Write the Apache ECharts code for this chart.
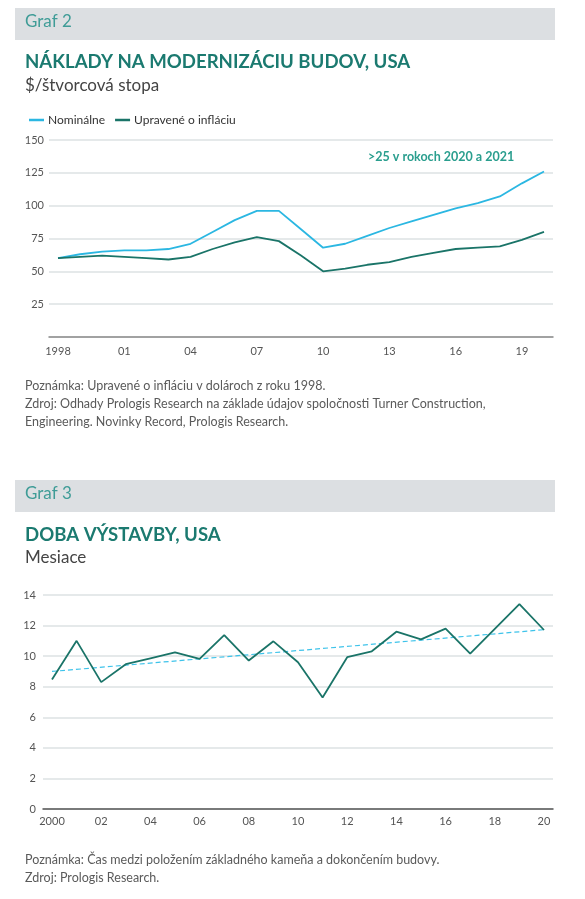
<!DOCTYPE html>
<html>
<head>
<meta charset="utf-8">
<script src="https://cdn.jsdelivr.net/npm/echarts@6/dist/echarts.min.js"></script>
<style>
html,body{margin:0;padding:0;background:#fff;}
#c{width:585px;height:899px;}
</style>
</head>
<body>
<div id="c"></div>
<script>
// ---- Graf 2 data ----
var years1 = ['1998','1999','2000','2001','2002','2003','2004','2005','2006','2007','2008','2009','2010','2011','2012','2013','2014','2015','2016','2017','2018','2019','2020'];
var nominal = [60, 63, 65, 66, 66, 67, 71, 80, 89, 96, 96, 82, 68, 71, 77, 83, 88, 93, 98, 102, 107, 117, 126];
var adjusted = [60, 61, 62, 61, 60, 59, 61, 67, 72, 76, 73, 62, 50, 52, 55, 57, 61, 64, 67, 68, 69, 74, 80];
var yTicks1 = [0, 150, 25];
// ---- Graf 3 data ----
var years2 = ['2000','2001','2002','2003','2004','2005','2006','2007','2008','2009','2010','2011','2012','2013','2014','2015','2016','2017','2018','2019','2020'];
var months = [8.47, 11.0, 8.3, 9.47, 9.86, 10.25, 9.82, 11.38, 9.71, 10.97, 9.6, 7.29, 9.93, 10.32, 11.6, 11.1, 11.8, 10.16, 11.79, 13.41, 11.71];
var trend = [9.0, null, null, null, null, null, null, null, null, null, null, null, null, null, null, null, null, null, null, null, 11.73];
var yTicks2 = [0, 14, 2];

var FONT = 'Lato';
var teal = '#1a7468';
var blue = '#2bb7e2';
var grid = '#dde2e3';
var lab = '#555';

var chart = echarts.init(document.getElementById('c'), null, {renderer: 'canvas'});

function txt(x, y, s, o) {
  return {type: 'text', left: x, top: y, style: Object.assign({text: s, font: 'normal 13px ' + FONT, fill: '#555'}, o || {})};
}

var option = {
  animation: false,
  backgroundColor: '#fff',
  textStyle: {fontFamily: FONT},
  legend: {
    left: 24, top: 109, itemWidth: 15, itemHeight: 2.5, itemGap: 10, icon: 'rect',
    textStyle: {fontSize: 12, color: '#333', fontFamily: FONT, padding: [0, 0, 0, -1]},
    data: ['Nominálne', 'Upravené o infláciu']
  },
  grid: [
    {left: 49, right: 32, top: 140, height: 197},
    {left: 58, right: 41, top: 140, height: 197},
    {left: 43, right: 32, top: 595, height: 214},
    {left: 52, right: 41, top: 595, height: 214}
  ],
  xAxis: [
    {gridIndex: 0, type: 'value', min: 0, max: 1, axisLine: {show: true, lineStyle: {color: '#8a8a8a', width: 1.5}}, axisTick: {show: false}, axisLabel: {show: false}, splitLine: {show: false}},
    {gridIndex: 1, type: 'category', data: years1, boundaryGap: false, axisLine: {show: false}, axisTick: {show: false},
      axisLabel: {interval: 2, margin: 9, color: lab, fontSize: 11, fontFamily: FONT,
        formatter: function (v, i) { return i === 0 ? v : v.slice(2); }}},
    {gridIndex: 2, type: 'value', min: 0, max: 1, axisLine: {show: true, lineStyle: {color: '#555', width: 1.5}}, axisTick: {show: false}, axisLabel: {show: false}, splitLine: {show: false}},
    {gridIndex: 3, type: 'category', data: years2, boundaryGap: false, axisLine: {show: false}, axisTick: {show: false},
      axisLabel: {interval: 1, margin: 7, color: lab, fontSize: 11, fontFamily: FONT,
        formatter: function (v, i) { return i === 0 ? v : v.slice(2); }}}
  ],
  yAxis: [
    {gridIndex: 0, type: 'value', min: yTicks1[0], max: yTicks1[1], interval: yTicks1[2], axisLine: {show: false}, axisTick: {show: false},
      axisLabel: {margin: 5, color: lab, fontSize: 11, fontFamily: FONT, formatter: function (v) { return v === 0 ? '' : v; }},
      splitLine: {lineStyle: {color: grid, width: 1.5}}},
    {gridIndex: 1, type: 'value', min: yTicks1[0], max: yTicks1[1], show: false},
    {gridIndex: 2, type: 'value', min: yTicks2[0], max: yTicks2[1], interval: yTicks2[2], axisLine: {show: false}, axisTick: {show: false},
      axisLabel: {margin: 7, color: lab, fontSize: 11, fontFamily: FONT},
      splitLine: {lineStyle: {color: grid, width: 1.5}}},
    {gridIndex: 3, type: 'value', min: yTicks2[0], max: yTicks2[1], show: false}
  ],
  series: [
    {name: 'Nominálne', type: 'line', xAxisIndex: 1, yAxisIndex: 1, data: nominal, symbol: 'none', color: blue, lineStyle: {width: 1.8, color: blue}},
    {name: 'Upravené o infláciu', type: 'line', xAxisIndex: 1, yAxisIndex: 1, data: adjusted, symbol: 'none', color: teal, lineStyle: {width: 1.8, color: teal}},
    {name: 'trend', type: 'line', xAxisIndex: 3, yAxisIndex: 3, data: trend, connectNulls: true, symbol: 'none', lineStyle: {width: 1.2, color: '#3ec3ea', type: [5, 3]}},
    {name: 'Mesiace', type: 'line', xAxisIndex: 3, yAxisIndex: 3, data: months, symbol: 'none', lineStyle: {width: 1.8, color: teal}}
  ],
  graphic: [
    {type: 'rect', shape: {x: 15, y: 8, width: 540, height: 32}, style: {fill: '#dcdfe2'}},
    txt(25, 13, 'Graf 2', {font: 'normal 17px ' + FONT, fill: '#3f9c97'}),
    txt(25, 52, 'NÁKLADY NA MODERNIZÁCIU BUDOV, USA', {font: 'bold 18.6px ' + FONT, fill: '#1b7a70'}),
    txt(25, 77, '$/štvorcová stopa', {font: 'normal 17px ' + FONT, fill: '#444'}),
    txt(368, 150, '>25 v rokoch 2020 a 2021', {font: 'bold 12.5px ' + FONT, fill: '#2a9e8e'}),
    txt(25, 377, 'Poznámka: Upravené o infláciu v dolároch z roku 1998.\nZdroj: Odhady Prologis Research na základe údajov spoločnosti Turner Construction,\nEngineering. Novinky Record, Prologis Research.', {font: 'normal 12.5px ' + FONT, fill: '#5a5a5a', lineHeight: 18}),
    {type: 'rect', shape: {x: 15, y: 480, width: 540, height: 32}, style: {fill: '#dcdfe2'}},
    txt(25, 485, 'Graf 3', {font: 'normal 17px ' + FONT, fill: '#3f9c97'}),
    txt(25, 525, 'DOBA VÝSTAVBY, USA', {font: 'bold 18.6px ' + FONT, fill: '#1b7a70'}),
    txt(25, 549, 'Mesiace', {font: 'normal 17px ' + FONT, fill: '#444'}),
    txt(25, 851, 'Poznámka: Čas medzi položením základného kameňa a dokončením budovy.\nZdroj: Prologis Research.', {font: 'normal 12.5px ' + FONT, fill: '#5a5a5a', lineHeight: 18})
  ]
};
chart.setOption(option);
</script>
</body>
</html>
